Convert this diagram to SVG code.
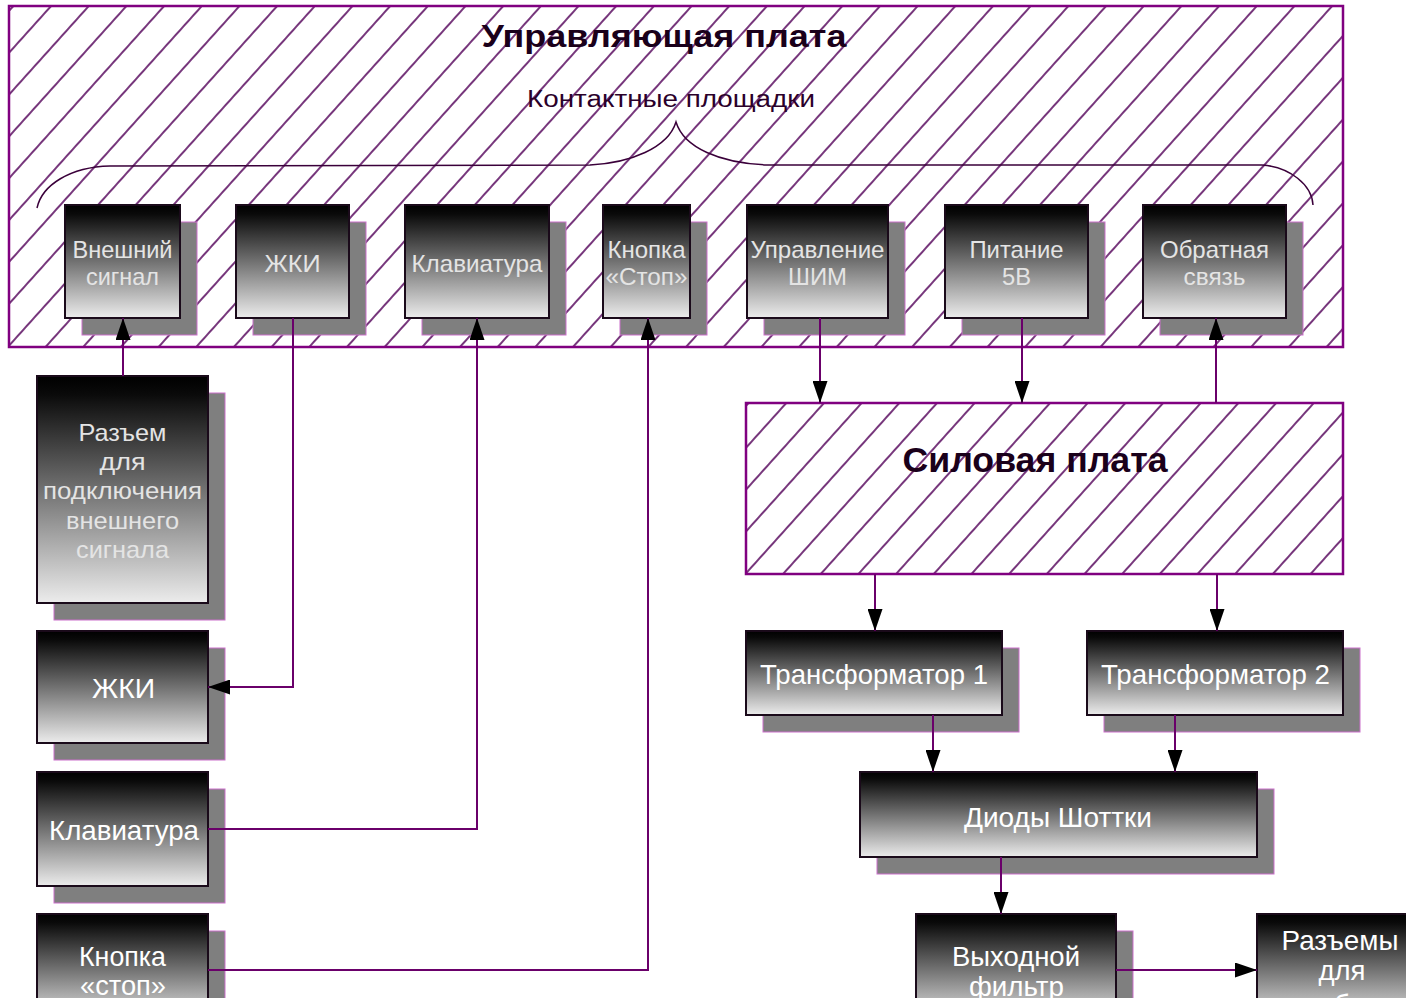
<svg xmlns="http://www.w3.org/2000/svg" width="1406" height="998" viewBox="0 0 1406 998">
<style>
.board{fill:url(#hatch);stroke:#800080;stroke-width:2.5}
.shadow{fill:#7f7f7f;stroke:#cc70cc;stroke-width:1}
.box{fill:url(#grad);stroke:#1a0a1a;stroke-width:2}
.tt{font-family:"Liberation Sans",Arial,sans-serif;text-anchor:middle}
.top{font-size:24px;fill:#e4e4e4}
.low{font-size:28px;fill:#ffffff}
.title{font-weight:bold;fill:#1a001a}
.sub{fill:#2a002a}
.conn{fill:none;stroke:#6a006a;stroke-width:2;marker-end:url(#arr)}
.brace{fill:none;stroke:#3a003a;stroke-width:1.5}
</style>
<defs>
<linearGradient id="grad" x1="0" y1="0" x2="0" y2="1">
<stop offset="0" stop-color="#000"/>
<stop offset="0.08" stop-color="#0a0a0a"/>
<stop offset="1" stop-color="#ececec"/>
</linearGradient>
<pattern id="hatch" patternUnits="userSpaceOnUse" width="28" height="28" patternTransform="rotate(42)">
<rect width="28" height="28" fill="#fff"/>
<line x1="14" y1="-1" x2="14" y2="29" stroke="#54045a" stroke-width="1.6"/>
</pattern>
<marker id="arr" markerUnits="userSpaceOnUse" markerWidth="22" markerHeight="15" refX="22" refY="7.5" orient="auto">
<path d="M0,0 L22,7.5 L0,15 z" fill="#000"/>
</marker>
</defs>

<g id="board-control">
<rect class="board" x="9" y="6" width="1334" height="341"/>
<text class="tt title" x="664" y="47" font-size="32" textLength="365" lengthAdjust="spacingAndGlyphs">Управляющая плата</text>
<text class="tt sub" x="671" y="107" font-size="23" textLength="288" lengthAdjust="spacingAndGlyphs">Контактные площадки</text>
<path class="brace" d="M37,208 C42,185 70,167 110,166 L590,165 C630,163 668,148 676,122 C684,148 720,163 767,165 L1262,165 C1290,167 1312,185 1313,205"/>
</g>

<g id="board-power">
<rect class="board" x="746" y="403" width="597" height="171"/>
<text class="tt title" x="1035" y="472" font-size="35" textLength="265" lengthAdjust="spacingAndGlyphs">Силовая плата</text>
</g>

<g id="pad-ext">
<rect class="shadow" x="82" y="222" width="115" height="113"/>
<rect class="box" x="65" y="205" width="115" height="113"/>
<text class="tt top" x="122.5" y="258" textLength="100" lengthAdjust="spacingAndGlyphs">Внешний</text>
<text class="tt top" x="122.5" y="285" textLength="73" lengthAdjust="spacingAndGlyphs">сигнал</text>
</g>
<g id="pad-lcd">
<rect class="shadow" x="253" y="222" width="113" height="113"/>
<rect class="box" x="236" y="205" width="113" height="113"/>
<text class="tt top" x="292.5" y="272" textLength="56" lengthAdjust="spacingAndGlyphs">ЖКИ</text>
</g>
<g id="pad-kbd">
<rect class="shadow" x="422" y="222" width="144" height="113"/>
<rect class="box" x="405" y="205" width="144" height="113"/>
<text class="tt top" x="477" y="272" textLength="131" lengthAdjust="spacingAndGlyphs">Клавиатура</text>
</g>
<g id="pad-stop">
<rect class="shadow" x="620" y="222" width="87" height="113"/>
<rect class="box" x="603" y="205" width="87" height="113"/>
<text class="tt top" x="646.5" y="258" textLength="78" lengthAdjust="spacingAndGlyphs">Кнопка</text>
<text class="tt top" x="646.5" y="285" textLength="82" lengthAdjust="spacingAndGlyphs">«Стоп»</text>
</g>
<g id="pad-pwm">
<rect class="shadow" x="764" y="222" width="141" height="113"/>
<rect class="box" x="747" y="205" width="141" height="113"/>
<text class="tt top" x="817.5" y="258" textLength="134" lengthAdjust="spacingAndGlyphs">Управление</text>
<text class="tt top" x="817.5" y="285" textLength="59" lengthAdjust="spacingAndGlyphs">ШИМ</text>
</g>
<g id="pad-pow">
<rect class="shadow" x="962" y="222" width="143" height="113"/>
<rect class="box" x="945" y="205" width="143" height="113"/>
<text class="tt top" x="1016.5" y="258" textLength="94" lengthAdjust="spacingAndGlyphs">Питание</text>
<text class="tt top" x="1016.5" y="285" textLength="29" lengthAdjust="spacingAndGlyphs">5В</text>
</g>
<g id="pad-fb">
<rect class="shadow" x="1160" y="222" width="143" height="113"/>
<rect class="box" x="1143" y="205" width="143" height="113"/>
<text class="tt top" x="1214.5" y="258" textLength="109" lengthAdjust="spacingAndGlyphs">Обратная</text>
<text class="tt top" x="1214.5" y="285" textLength="62" lengthAdjust="spacingAndGlyphs">связь</text>
</g>

<g id="conn-ext">
<rect class="shadow" x="54" y="393" width="171" height="227"/>
<rect class="box" x="37" y="376" width="171" height="227"/>
<text class="tt top" font-size="26" x="122.5" y="441" textLength="88" lengthAdjust="spacingAndGlyphs">Разъем</text>
<text class="tt top" font-size="26" x="122.5" y="470" textLength="46" lengthAdjust="spacingAndGlyphs">для</text>
<text class="tt top" font-size="26" x="122.5" y="499" textLength="159" lengthAdjust="spacingAndGlyphs">подключения</text>
<text class="tt top" font-size="26" x="122.5" y="529" textLength="113" lengthAdjust="spacingAndGlyphs">внешнего</text>
<text class="tt top" font-size="26" x="122.5" y="558" textLength="93" lengthAdjust="spacingAndGlyphs">сигнала</text>
</g>
<g id="lcd">
<rect class="shadow" x="54" y="648" width="171" height="112"/>
<rect class="box" x="37" y="631" width="171" height="112"/>
<text class="tt low" font-size="30" x="123.5" y="698" textLength="63" lengthAdjust="spacingAndGlyphs">ЖКИ</text>
</g>
<g id="kbd">
<rect class="shadow" x="54" y="789" width="171" height="114"/>
<rect class="box" x="37" y="772" width="171" height="114"/>
<text class="tt low" font-size="29" x="124" y="840" textLength="150" lengthAdjust="spacingAndGlyphs">Клавиатура</text>
</g>
<g id="stop">
<rect class="shadow" x="54" y="931" width="171" height="110"/>
<rect class="box" x="37" y="914" width="171" height="110"/>
<text class="tt low" x="122.5" y="966" textLength="87" lengthAdjust="spacingAndGlyphs">Кнопка</text>
<text class="tt low" x="123" y="995" textLength="86" lengthAdjust="spacingAndGlyphs">«стоп»</text>
</g>

<g id="tr1">
<rect class="shadow" x="763" y="648" width="256" height="84"/>
<rect class="box" x="746" y="631" width="256" height="84"/>
<text class="tt low" x="874" y="684" textLength="228" lengthAdjust="spacingAndGlyphs">Трансформатор 1</text>
</g>
<g id="tr2">
<rect class="shadow" x="1104" y="648" width="256" height="84"/>
<rect class="box" x="1087" y="631" width="256" height="84"/>
<text class="tt low" x="1215.5" y="684" textLength="229" lengthAdjust="spacingAndGlyphs">Трансформатор 2</text>
</g>
<g id="diodes">
<rect class="shadow" x="877" y="789" width="397" height="85"/>
<rect class="box" x="860" y="772" width="397" height="85"/>
<text class="tt low" x="1058" y="827" textLength="188" lengthAdjust="spacingAndGlyphs">Диоды Шоттки</text>
</g>
<g id="filter">
<rect class="shadow" x="933" y="931" width="200" height="110"/>
<rect class="box" x="916" y="914" width="200" height="110"/>
<text class="tt low" x="1016" y="966" textLength="128" lengthAdjust="spacingAndGlyphs">Выходной</text>
<text class="tt low" x="1016.5" y="996" textLength="95" lengthAdjust="spacingAndGlyphs">фильтр</text>
</g>
<g id="outputs">
<rect class="shadow" x="1274" y="931" width="171" height="110"/>
<rect class="box" x="1257" y="914" width="171" height="110"/>
<text class="tt low" x="1340" y="950" textLength="117" lengthAdjust="spacingAndGlyphs">Разъемы</text>
<text class="tt low" x="1342" y="980" textLength="47" lengthAdjust="spacingAndGlyphs">для</text>
<text class="tt low" x="1342" y="1014">потребителя</text>
</g>

<g id="connectors">
<path class="conn" d="M123,376 V318"/>
<path class="conn" d="M293,318 V687 H208"/>
<path class="conn" d="M208,829 H477 V318"/>
<path class="conn" d="M208,970 H648 V318"/>
<path class="conn" d="M820,318 V403"/>
<path class="conn" d="M1022,318 V403"/>
<path class="conn" d="M1216,403 V318"/>
<path class="conn" d="M875,574 V631"/>
<path class="conn" d="M1217,574 V631"/>
<path class="conn" d="M933,715 V772"/>
<path class="conn" d="M1175,715 V772"/>
<path class="conn" d="M1001,857 V914"/>
<path class="conn" d="M1116,970 H1257"/>
</g>
</svg>
